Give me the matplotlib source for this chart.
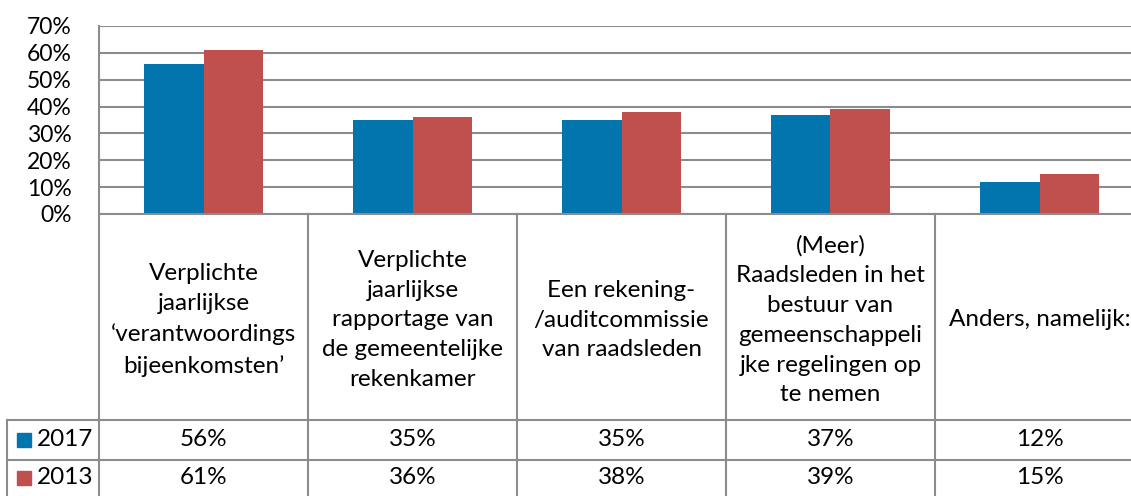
import numpy as np
import matplotlib.pyplot as plt
from matplotlib.lines import Line2D

# data
categories = [
    "Verplichte\njaarlijkse\n\u2018verantwoordings\nbijeenkomsten\u2019",
    "Verplichte\njaarlijkse\nrapportage van\nde gemeentelijke\nrekenkamer",
    "Een rekening-\n/auditcommissie\nvan raadsleden",
    "(Meer)\nRaadsleden in het\nbestuur van\ngemeenschappeli\njke regelingen op\nte nemen",
    "Anders, namelijk:",
]
series_names = ["2017", "2013"]
vals_2017 = [56, 35, 35, 37, 12]
vals_2013 = [61, 36, 38, 39, 15]
colors = ["#0274AE", "#C0504D"]
yticks = [0, 10, 20, 30, 40, 50, 60, 70]

plt.rcParams['font.family'] = ['Lato', 'DejaVu Sans']
W, H = 1131, 496
fig = plt.figure(figsize=(W / 100, H / 100), dpi=100)

# layout in pixels
left, right = 99, 1144
top, base = 26, 214
row1, row2, row3 = 420, 460, 500
leg_left = 7
grid_c = "#8C8C8C"
fs = 17.5

ax = fig.add_axes([left / W, 1 - base / H, (right - left) / W, (base - top) / H])
n = len(categories)
x = np.arange(n)
bw = 0.287
ax.bar(x - bw / 2, vals_2017, bw, color=colors[0], zorder=3)
ax.bar(x + bw / 2, vals_2013, bw, color=colors[1], zorder=3)
ax.set_xlim(-0.5, n - 0.5)
ax.set_ylim(0, 70)
ax.set_yticks(yticks)
ax.set_yticklabels([f"{t}%" for t in yticks], fontsize=16.5)
ax.tick_params(axis='y', length=0, pad=19.5)
ax.set_xticks([])
ax.yaxis.grid(True, color=grid_c, linewidth=1.5, zorder=0)
for s in ["top", "right", "bottom", "left"]:
    ax.spines[s].set_visible(False)

# data table drawn in pixel space
tax = fig.add_axes([0, 0, 1, 1])
tax.set_xlim(0, W)
tax.set_ylim(H, 0)
tax.axis("off")
cw = (right - left) / n

def hline(y, x0, x1):
    tax.add_line(Line2D([x0, x1], [y, y], color=grid_c, lw=1.5, clip_on=False))

def vline(xx, y0, y1):
    tax.add_line(Line2D([xx, xx], [y0, y1], color=grid_c, lw=1.5, clip_on=False))

hline(base, left, right)
for y in [row1, row2, row3]:
    hline(y, leg_left, right)
vline(left, top, row3)
vline(leg_left, row1, row3)
for i in range(1, n + 1):
    vline(left + i * cw, base, row3)

for i, c in enumerate(categories):
    cx = left + (i + 0.5) * cw
    tax.text(cx, (base + row1) / 2 + 3, c, ha="center", va="center",
             fontsize=fs, linespacing=1.52, color="black")
    tax.text(cx, (row1 + row2) / 2, f"{vals_2017[i]}%", ha="center",
             va="center", fontsize=fs)
    tax.text(cx, (row2 + row3) / 2 - 2, f"{vals_2013[i]}%", ha="center",
             va="center", fontsize=fs)

for j, (name, col) in enumerate(zip(series_names, colors)):
    yc = (row1 + row2) / 2 if j == 0 else (row2 + row3) / 2 - 2
    tax.add_patch(plt.Rectangle((17, yc - 7), 14, 14, color=col, clip_on=False))
    tax.text(37, yc, name, ha="left", va="center", fontsize=fs)

fig.savefig("out.png", dpi=100)
